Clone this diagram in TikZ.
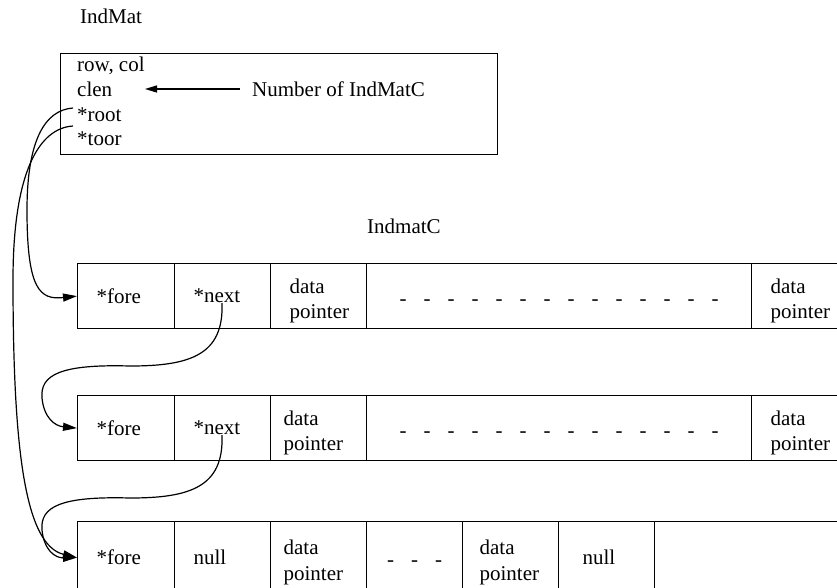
\documentclass[tikz,border=0pt]{standalone}
\usepackage{fontspec}
\setmainfont{Liberation Serif}
\usetikzlibrary{arrows.meta,calc}

\tikzset{
  every node/.style={font=\fontsize{21}{25.5}\selectfont, inner sep=0pt},
  frame/.style={draw, line width=1.2pt, rectangle, anchor=north west},
  % cell width = text width + 2 * inner xsep
  cell/.style={draw, line width=1.2pt, rectangle, anchor=north west,
               minimum height=65pt, align=left, inner xsep=19pt,
               text width=#1},
  midcell/.style={draw, line width=1.2pt, rectangle, anchor=north west,
                  minimum height=65pt, minimum width=#1, align=center},
  lastrow/.style={minimum height=72pt},
  label/.style={anchor=base west},
  ptr/.style={line width=1.2pt, -{Triangle[length=14pt,width=8pt]}},
}

% two lines set a little lower in their cell
\newcommand{\twolines}[2]{\rule{0pt}{24pt}#1\\#2}
% dashes spaced out inside a cell
\newcommand{\gapdashes}[1]{{\rule{0pt}{18pt}\spaceskip=17pt\relax #1}}

\begin{document}
\begin{tikzpicture}[x=1pt,y=-1pt]
  \useasboundingbox (0,0) rectangle (837,587);

  % IndMat structure
  \node[label] (indmatlbl) at (80,23) {IndMat};
  \node[frame, minimum width=437pt, minimum height=101pt] (indmat) at (60,53) {};
  \node[label] (rowcol) at (77,71) {row, col};
  \node[label] (clen) at (77,96) {clen};
  \node[label] (root) at (77,121) {*root};
  \node[label] (toor) at (77,145) {*toor};
  \node[label] (numlbl) at (252,96) {Number of IndMatC};
  \coordinate (numtail) at (240,89);
  \coordinate (numtip) at (145,89);
  \draw[line width=1.2pt, -{Triangle[length=12pt,width=7pt]}] (numtail) -- (numtip);

  \node[label] (indmatclbl) at (367,233) {IndmatC};

  % first IndmatC row
  \node[cell=59pt] (a1) at (77,263) {*fore};
  \node[cell=58pt] (a2) at (174,263) {*next};
  \node[cell=58pt] (a3) at (270,263) {\twolines{data}{pointer}};
  \node[midcell=385pt] (a4) at (366,263) {\gapdashes{- - - - - - - - - - - - - -}};
  \node[cell=62pt] (a5) at (751,263) {\twolines{data}{pointer}};

  % second IndmatC row
  \node[cell=59pt] (b1) at (77,395) {*fore};
  \node[cell=58pt] (b2) at (174,395) {*next};
  \node[cell=70pt, inner xsep=13pt] (b3) at (270,395) {\twolines{data}{pointer}};
  \node[midcell=385pt] (b4) at (366,395) {\gapdashes{- - - - - - - - - - - - - -}};
  \node[cell=62pt] (b5) at (751,395) {\twolines{data}{pointer}};

  % last IndmatC row
  \node[cell=59pt, lastrow] (c1) at (77,521) {*fore};
  \node[cell=58pt, lastrow] (c2) at (174,521) {null};
  \node[cell=70pt, inner xsep=13pt, lastrow] (c3) at (270,521) {\twolines{data}{pointer}};
  \node[midcell=96pt, lastrow] (c4) at (366,521) {\gapdashes{- - -}};
  \node[cell=62pt, inner xsep=17pt, lastrow] (c5) at (462,521) {\twolines{data}{pointer}};
  \node[cell=48pt, inner xsep=24pt, lastrow] (c6) at (558,521) {null};
  \node[midcell=200pt, lastrow] (c7) at (654,521) {};

  % pointer starts
  \coordinate (rootp) at ($(root.base west)+(-4,-13)$);
  \coordinate (toorp) at ($(toor.base west)+(-4,-19)$);
  \coordinate (next1) at (222,303);
  \coordinate (next2) at (222,435);

  % *root -> first row
  \draw[ptr] (rootp) .. controls (45,110) and (27,140) .. (27,210)
                     .. controls (27,290) and (40,300) .. (a1.west);
  % *toor -> last row
  \draw[ptr] (toorp) .. controls (40,128) and (13,170) .. (13,280)
                     .. controls (13,450) and (25,545) .. (c1.west);
  % *next -> next row
  \draw[ptr] (next1) .. controls (224,355) and (190,366) .. (130,366)
                     .. controls (60,364) and (40,375) .. (42,398)
                     .. controls (44,418) and (55,426) .. (b1.west);
  \draw[ptr] (next2) .. controls (224,487) and (190,498) .. (130,498)
                     .. controls (60,496) and (40,507) .. (42,530)
                     .. controls (44,550) and (55,558) .. (c1.west);
\end{tikzpicture}
\end{document}
